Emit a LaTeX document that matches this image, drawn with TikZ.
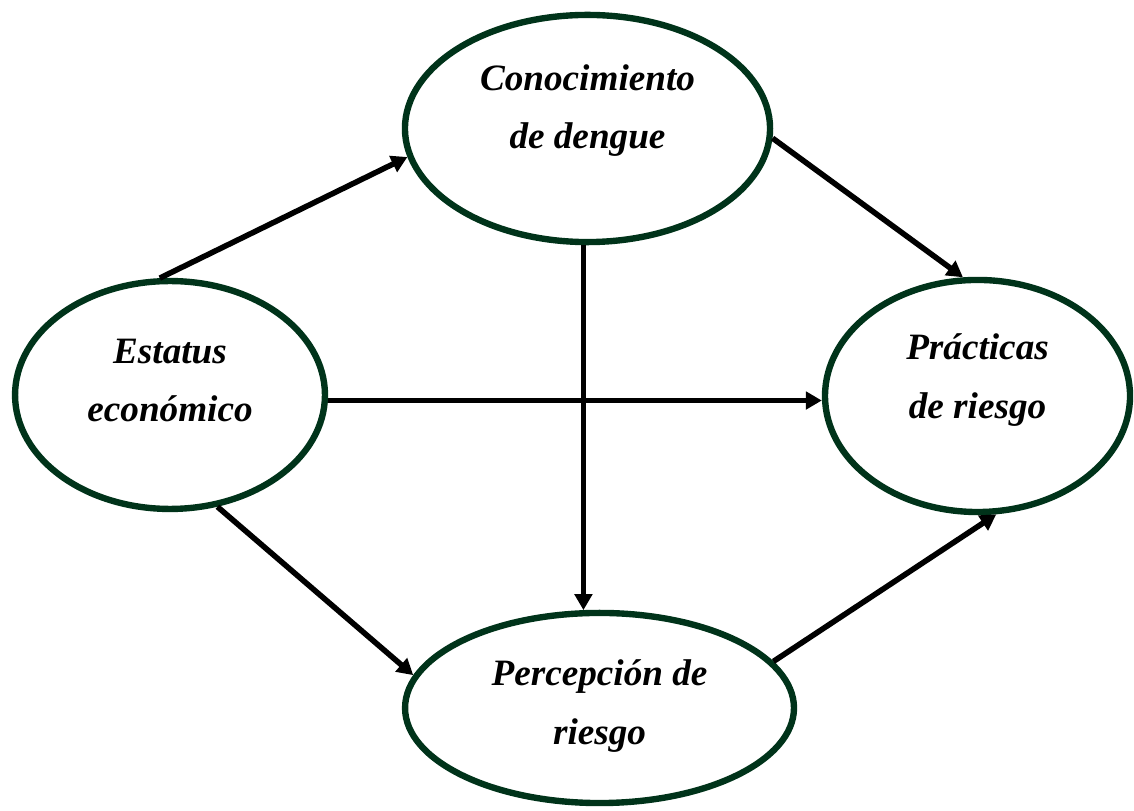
\documentclass[tikz,border=0pt]{standalone}
\usepackage{fontspec}
\setmainfont{Liberation Serif}
\usepackage{xcolor}
\usepackage{tikz}
\usetikzlibrary{shapes.geometric,arrows.meta,calc}
\definecolor{bordegreen}{RGB}{0,51,26}

\begin{document}
\begin{tikzpicture}[
        bubble/.style={ellipse, draw=bordegreen, line width=4.8pt, fill=white, inner sep=0pt, align=center,
            font=\bfseries\itshape\fontsize{28}{44}\selectfont},
        link/.style={-{Triangle[length=12pt,width=13pt]}, line width=4.2pt, black},
    ]
        \useasboundingbox (0,0) rectangle (30.003,21.431);
        \node[bubble, minimum width=8.20cm, minimum height=6.03cm, text depth=22.5pt] (estatus) at (4.498,10.98) {Estatus\\económico};
        \node[bubble, minimum width=9.66cm, minimum height=6.01cm, text depth=33pt] (conoc) at (15.544,18.031) {Conocimiento\\de dengue};
        \node[bubble, minimum width=8.07cm, minimum height=6.14cm, text depth=30pt] (practicas) at (25.863,10.954) {Prácticas\\de riesgo};
        \node[bubble, minimum width=10.29cm, minimum height=5.03cm, text depth=9pt] (percep) at (15.862,2.699) {Percepción de\\riesgo};

        \draw[link] (estatus.95) -- (conoc.189);
        \draw[link] (conoc.-3) -- (practicas.97);
        \draw[link] (conoc.-92) -- (conoc.-92 |- percep.100);
        \draw[link] (estatus.-2) -- (estatus.-2 -| practicas.west);
        \draw[link] (estatus.-67) -- (percep.170);
        \draw[link] (percep.15) -- (practicas.-81.5);
    \end{tikzpicture}
\end{document}
